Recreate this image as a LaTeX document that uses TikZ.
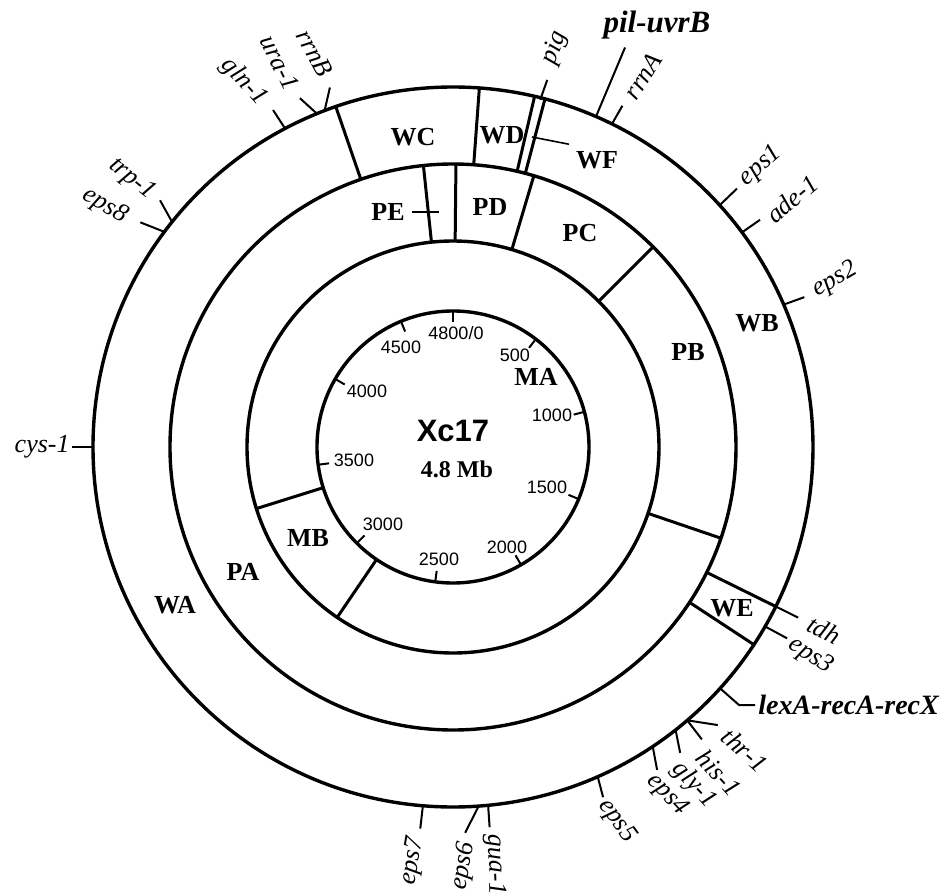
\documentclass[tikz,border=0pt]{standalone}
\usepackage{fontspec}
\setmainfont{Liberation Serif}
\setsansfont{Liberation Sans}

\begin{document}
\begin{tikzpicture}[x=0.5pt,y=0.5pt,
    ring/.style={line width=1.7pt},
    wall/.style={line width=1.5pt},
    tickline/.style={line width=1pt},
    leader/.style={line width=0.8pt},
    gene/.style={font=\fontsize{13}{13}\selectfont\itshape,inner sep=1pt},
    bgene/.style={font=\fontsize{14}{14}\selectfont\bfseries\itshape,inner sep=1.5pt},
    seg/.style={font=\fontsize{13}{13}\selectfont\bfseries},
    kb/.style={font=\fontsize{9}{9}\selectfont\sffamily,inner sep=1pt}]
\useasboundingbox (-453,-448) rectangle (490,447);

% the four circles
\draw[ring] (0,0) circle[radius=360];
\draw[ring] (0,0) circle[radius=283];
\draw[ring] (0,0) circle[radius=206];
\draw[ring] (0,0) circle[radius=136];

% W ring
\draw[wall] (109:283) -- (109:360);
\draw[wall] (85.8:283) -- (85.8:360);
\draw[wall] (76.9:283) -- (76.9:360);
\draw[wall] (75.2:283) -- (75.2:360);
\draw[wall] (-26.3:283) -- (-26.3:360);
\draw[wall] (-33.3:283) -- (-33.3:360);
% P ring
\draw[wall] (96:206) -- (96:283);
\draw[wall] (89.4:206) -- (89.4:283);
\draw[wall] (73.4:206) -- (73.4:283);
\draw[wall] (45:206) -- (45:283);
\draw[wall] (-18.8:206) -- (-18.8:283);
% M ring
\draw[wall] (197.4:136) -- (197.4:206);
\draw[wall] (235.8:136) -- (235.8:206);

% segment labels
\node[seg] (WA) at (-278,-158) {WA};
\node[seg] (WB) at (304,124) {WB};
\node[seg] (WC) at (-40,310) {WC};
\node[seg,inner sep=0pt] (WD) at (49,312) {WD};
\node[seg] (WE) at (279,-161) {WE};
\node[seg] (WF) at (144,287) {WF};
\node[seg] (PA) at (-210,-125) {PA};
\node[seg] (PB) at (235,95) {PB};
\node[seg] (PC) at (127,214) {PC};
\node[seg] (PD) at (37,240) {PD};
\node[seg] (PE) at (-65,235) {PE};
\node[seg] (MA) at (83,70) {MA};
\node[seg] (MB) at (-145,-91) {MB};
\coordinate (wf-in) at (79,310);
\coordinate (pe-in) at (-14,235);
\draw[leader] (wf-in) -- (WF.north west);
\draw[leader] (PE.east) -- (pe-in);

% centre
\node[font=\fontsize{15.5}{15.5}\selectfont\sffamily\bfseries] (name) at (0,16) {Xc17};
\node[font=\fontsize{12}{12}\selectfont\bfseries] (size) at (4,-22) {4.8 Mb};

% kb scale
\draw[tickline] (90:136) -- (90:125);
\draw[tickline] (52.5:136) -- (52.5:125);
\draw[tickline] (15:136) -- (15:125);
\draw[tickline] (-22.5:136) -- (-22.5:125);
\draw[tickline] (-60:136) -- (-60:125);
\draw[tickline] (-97.5:136) -- (-97.5:125);
\draw[tickline] (-135:136) -- (-135:125);
\draw[tickline] (-172.5:136) -- (-172.5:125);
\draw[tickline] (150:136) -- (150:125);
\draw[tickline] (112.5:136) -- (112.5:125);
\node[kb] (k0) at (3,114) {4800/0};
\node[kb] (k500) at (62,92) {500};
\node[kb] (k1000) at (99,32) {1000};
\node[kb] (k1500) at (94,-40) {1500};
\node[kb] (k2000) at (54,-100) {2000};
\node[kb] (k2500) at (-14,-112) {2500};
\node[kb] (k3000) at (-70,-77) {3000};
\node[kb] (k3500) at (-99,-13) {3500};
\node[kb] (k4000) at (-86,56) {4000};
\node[kb] (k4500) at (-52,100) {4500};

% markers, top and right
\coordinate (pilB-b) at (66.6:360);
\coordinate (pilB-e) at (66.7:435);
\draw[tickline] (pilB-b) -- (pilB-e);
\node[bgene,font=\fontsize{15.5}{15.5}\selectfont\bfseries\itshape] (pilB) at (204,422) {pil-uvrB};
\coordinate (rrnA-b) at (63.8:360);
\coordinate (rrnA-e) at (63.6:381);
\draw[tickline] (rrnA-b) -- (rrnA-e);
\node[gene,rotate=57] (rrnA) at (190,371) {rrnA};
\coordinate (pig-b) at (75.9:358);
\coordinate (pig-e) at (75.6:379);
\draw[tickline] (pig-b) -- (pig-e);
\node[gene,rotate=70] (pig) at (102,399) {pig};
\coordinate (eps1-b) at (42.2:360);
\coordinate (eps1-e) at (42.3:384);
\draw[tickline] (eps1-b) -- (eps1-e);
\node[gene,rotate=41] (eps1) at (308,281) {eps1};
\coordinate (ade-b) at (36.6:360);
\coordinate (ade-e) at (36.5:382);
\draw[tickline] (ade-b) -- (ade-e);
\node[gene,rotate=40] (ade) at (339,248) {ade-1};
\coordinate (eps2-b) at (23.3:360);
\coordinate (eps2-e) at (23.1:382);
\draw[tickline] (eps2-b) -- (eps2-e);
\node[gene,rotate=30] (eps2) at (382,167) {eps2};
\coordinate (tdh-b) at (-26.3:360);
\coordinate (tdh-e) at (-26.3:385);
\draw[tickline] (tdh-b) -- (tdh-e);
\node[gene,rotate=-27] (tdh) at (371,-183) {tdh};
\coordinate (eps3-b) at (-29.9:360);
\coordinate (eps3-e) at (-29.8:385);
\draw[tickline] (eps3-b) -- (eps3-e);
\node[gene,rotate=-33] (eps3) at (358,-209) {eps3};
\coordinate (lex-b) at (-42.1:360);
\coordinate (lex-k) at (286,-258);
\node[bgene,anchor=west] (lex) at (302,-258) {lexA-recA-recX};
\draw[tickline] (lex-b) -- (lex-k) -- (lex.west);

% markers, bottom
\coordinate (thr-b) at (-49.4:360);
\coordinate (thr-e) at (-46.4:384);
\coordinate (his-e) at (-49.6:384);
\draw[tickline] (thr-b) -- (thr-e);
\draw[tickline] (thr-b) -- (his-e);
\node[gene,rotate=-42] (thr) at (292,-303) {thr-1};
\node[gene,rotate=-48] (his) at (266,-326) {his-1};
\coordinate (gly-b) at (-51.8:360);
\coordinate (gly-e) at (-53.4:381);
\draw[tickline] (gly-b) -- (gly-e);
\node[gene,rotate=-47] (gly) at (241,-338) {gly-1};
\coordinate (eps4-b) at (-56.3:360);
\coordinate (eps4-e) at (-57.7:382);
\draw[tickline] (eps4-b) -- (eps4-e);
\node[gene,rotate=-47] (eps4) at (214,-348) {eps4};
\coordinate (eps5-b) at (-66.3:360);
\coordinate (eps5-e) at (-66.8:381);
\draw[tickline] (eps5-b) -- (eps5-e);
\node[gene,rotate=-54] (eps5) at (164,-374) {eps5};
\coordinate (gua-b) at (-84.4:360);
\coordinate (gua-e) at (-84.5:382);
\draw[tickline] (gua-b) -- (gua-e);
\node[gene,rotate=-88] (gua) at (42,-418) {gua-1};
\coordinate (eps6-b) at (-85.9:360);
\coordinate (eps6-e) at (-88.2:386);
\draw[tickline] (eps6-b) -- (eps6-e);
\node[gene,rotate=80] (eps6) at (11,-419) {eps6};
\coordinate (eps7-b) at (-94.8:360);
\coordinate (eps7-e) at (-94.9:383);
\draw[tickline] (eps7-b) -- (eps7-e);
\node[gene,rotate=80] (eps7) at (-40,-414) {eps7};

% markers, left
\coordinate (cys-b) at (180:360);
\node[gene,anchor=east] (cys) at (180:381) {cys-1};
\draw[tickline] (cys-b) -- (cys.east);
\coordinate (eps8-b) at (143.3:360);
\coordinate (eps8-e) at (144.3:385);
\draw[tickline] (eps8-b) -- (eps8-e);
\node[gene,rotate=-31] (eps8) at (-348,241) {eps8};
\coordinate (trp-b) at (141.3:360);
\coordinate (trp-e) at (139.9:383);
\draw[tickline] (trp-b) -- (trp-e);
\node[gene,rotate=-39] (trp) at (-321,268) {trp-1};
\coordinate (gln-b) at (117.8:360);
\coordinate (gln-e) at (118.1:382);
\draw[tickline] (gln-b) -- (gln-e);
\node[gene,rotate=-48] (gln) at (-209,365) {gln-1};
\coordinate (ura-b) at (112.2:360);
\coordinate (ura-e) at (113.7:381);
\draw[tickline] (ura-b) -- (ura-e);
\node[gene,rotate=-64] (ura) at (-173,384) {ura-1};
\coordinate (rrnB-b) at (110.9:360);
\coordinate (rrnB-e) at (108.9:380);
\draw[tickline] (rrnB-b) -- (rrnB-e);
\node[gene,rotate=-62] (rrnB) at (-138,394) {rrnB};

\end{tikzpicture}
\end{document}
